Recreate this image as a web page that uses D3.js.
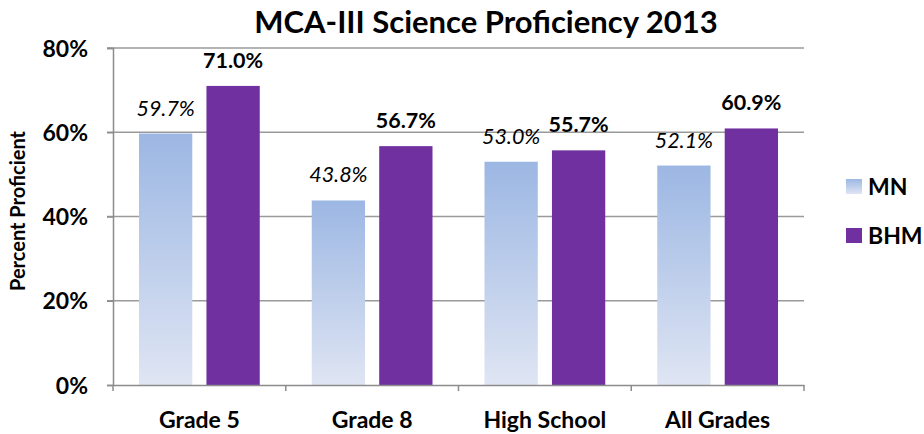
<!DOCTYPE html>
<html>
<head>
<meta charset="utf-8">
<script src="https://cdn.jsdelivr.net/npm/d3@7"></script>
<style>
body { margin: 0; background: #fff; }
text { font-family: Lato, "Open Sans", sans-serif; }
</style>
</head>
<body>
<div id="chart"></div>
<script>
// chart data
var categories = ["Grade 5", "Grade 8", "High School", "All Grades"];
var seriesNames = ["MN", "BHM"];
var mnValues = [59.7, 43.8, 53.0, 52.1];
var bhmValues = [71.0, 56.7, 55.7, 60.9];
var yTicks = [0, 20, 40, 60, 80];

var W = 924, H = 434;
var margin = {top: 48, right: 120, bottom: 49, left: 113},
width = W - margin.left - margin.right,
height = H - margin.top - margin.bottom;

var svg = d3.select("#chart")
.append("svg")
.attr("width", W)
.attr("height", H);

var defs = svg.append("defs");
var grad = defs.append("linearGradient")
.attr("id", "mnGrad")
.attr("x1", 0).attr("y1", 0).attr("x2", 0).attr("y2", 1);
grad.append("stop").attr("offset", "0%").attr("stop-color", "#9cb7e3");
grad.append("stop").attr("offset", "100%").attr("stop-color", "#dfe5f3");
var gradL = defs.append("linearGradient")
.attr("id", "mnGradLeg")
.attr("x1", 0).attr("y1", 0).attr("x2", 0).attr("y2", 1);
gradL.append("stop").attr("offset", "0%").attr("stop-color", "#9cb7e3");
gradL.append("stop").attr("offset", "100%").attr("stop-color", "#dfe5f3");

var g = svg.append("g")
.attr("transform", "translate(" + margin.left + "," + margin.top + ")");

var x0 = d3.scaleBand().domain(categories).range([0, width]).paddingInner(0).paddingOuter(0);
var x1 = d3.scaleBand().domain(seriesNames).range([26, x0.bandwidth() - 26]).paddingInner(0.21);
var y = d3.scaleLinear().domain([0, 80]).range([height, 0]);

// gridlines
g.selectAll(".grid")
.data(yTicks.filter(function(d) { return d > 0; }))
.enter().append("line")
.attr("x1", -6).attr("x2", width)
.attr("y1", function(d) { return y(d); })
.attr("y2", function(d) { return y(d); })
.attr("stroke", "#9a9a9a").attr("stroke-width", 1.5);

// y axis
var yAxis = g.append("g")
.call(d3.axisLeft(y).tickValues(yTicks).tickSize(6).tickFormat(function(d) { return d + "%"; }));
yAxis.select(".domain").attr("stroke", "#8c8c8c").attr("stroke-width", 1.5);
yAxis.selectAll(".tick line").attr("stroke", "#8c8c8c").attr("stroke-width", 1.5);
yAxis.selectAll(".tick text")
.attr("x", -25)
.attr("dy", "0.35em")
.style("font-size", "23px").style("font-weight", "bold").attr("fill", "#000");

var data = categories.map(function(c, i) {
  return {cat: c, vals: [{s: "MN", v: mnValues[i]}, {s: "BHM", v: bhmValues[i]}]};
});

var groups = g.selectAll(".grp")
.data(data)
.enter().append("g")
.attr("transform", function(d) { return "translate(" + x0(d.cat) + ",0)"; });

groups.selectAll("rect")
.data(function(d) { return d.vals; })
.enter().append("rect")
.attr("x", function(d) { return x1(d.s); })
.attr("width", x1.bandwidth())
.attr("y", function(d) { return y(d.v); })
.attr("height", function(d) { return height - y(d.v); })
.attr("fill", function(d) { return d.s == "MN" ? "url(#mnGrad)" : "#7030a0"; });

groups.selectAll(".lbl")
.data(function(d) { return d.vals; })
.enter().append("text")
.attr("x", function(d) { return x1(d.s) + x1.bandwidth() / 2; })
.attr("y", function(d) { return y(d.v) - 18; })
.attr("text-anchor", "middle")
.style("font-size", "21.5px")
.style("font-style", function(d) { return d.s == "MN" ? "italic" : "normal"; })
.style("font-weight", function(d) { return d.s == "MN" ? "normal" : "bold"; })
.attr("fill", "#000")
.text(function(d) { return d.v.toFixed(1) + "%"; });

// x axis
var xAxis = g.append("g")
.attr("transform", "translate(0," + height + ")")
.call(d3.axisBottom(x0).tickSize(0).tickPadding(27));
xAxis.select(".domain").attr("stroke", "#8c8c8c").attr("stroke-width", 1.5);
xAxis.selectAll(".tick text")
.style("font-size", "23px").style("font-weight", "bold").attr("fill", "#000");
g.selectAll(".xtick")
.data(d3.range(categories.length + 1))
.enter().append("line")
.attr("x1", function(i) { return i * x0.bandwidth(); })
.attr("x2", function(i) { return i * x0.bandwidth(); })
.attr("y1", height).attr("y2", height + 6)
.attr("stroke", "#8c8c8c").attr("stroke-width", 1.5);

// y title
svg.append("text")
.attr("transform", "translate(25," + (margin.top + 163) + ") rotate(-90)")
.attr("text-anchor", "middle")
.style("font-size", "20px").style("font-weight", "bold")
.text("Percent Proficient");

// title
svg.append("text")
.attr("x", 486).attr("y", 33)
.attr("text-anchor", "middle")
.style("font-size", "31px").style("font-weight", "bold")
.text("MCA-III Science Proficiency 2013");

// legend
var legend = svg.selectAll(".leg")
.data(seriesNames)
.enter().append("g")
.attr("transform", function(d, i) { return "translate(846," + (179 + i * 49) + ")"; });
legend.append("rect")
.attr("width", 16).attr("height", 15)
.attr("fill", function(d) { return d == "MN" ? "url(#mnGradLeg)" : "#7030a0"; });
legend.append("text")
.attr("x", 22).attr("y", 8).attr("dy", "0.35em")
.style("font-size", "23px").style("font-weight", "bold")
.text(function(d) { return d; });
</script>
</body>
</html>
